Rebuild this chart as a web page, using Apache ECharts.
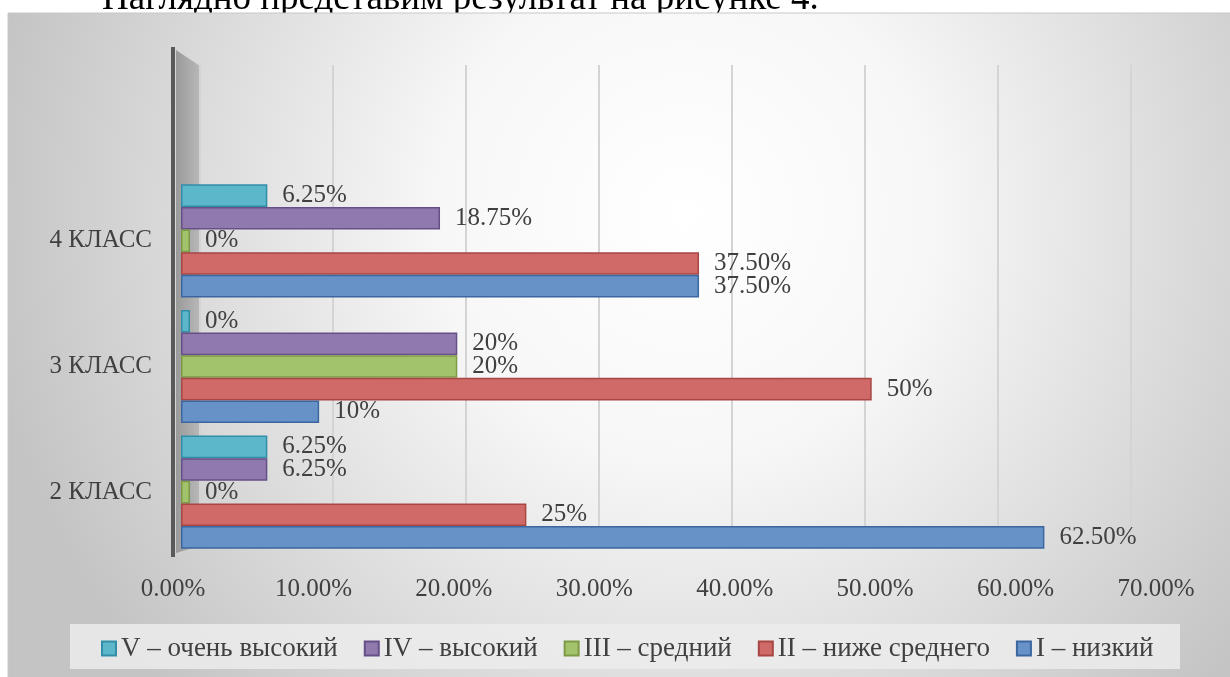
<!DOCTYPE html>
<html><head><meta charset="utf-8">
<script src="https://cdn.jsdelivr.net/npm/echarts@6/dist/echarts.min.js"></script>
<style>html,body{margin:0;padding:0;background:#fff;}#c{width:1230px;height:677px;}</style>
</head><body><div id="c"></div>
<script>
const categories = ['2 КЛАСС', '3 КЛАСС', '4 КЛАСС'];
const seriesNames = ['I – низкий', 'II – ниже среднего', 'III – средний', 'IV – высокий', 'V – очень высокий'];
const lowValues      = [62.5, 10, 37.5];
const belowAvgValues = [25, 50, 37.5];
const avgValues      = [0, 20, 0];
const highValues     = [6.25, 20, 18.75];
const veryHighValues = [6.25, 0, 6.25];
const lowLabels      = ['62.50%', '10%', '37.50%'];
const belowAvgLabels = ['25%', '50%', '37.50%'];
const avgLabels      = ['0%', '20%', '0%'];
const highLabels     = ['6.25%', '20%', '18.75%'];
const veryHighLabels = ['6.25%', '0%', '6.25%'];
const xTicks = [0, 10, 20, 30, 40, 50, 60, 70];

const FONT = '"Liberation Serif", "DejaVu Serif", serif';
const TXT = '#404040';
const fills   = ['#6792c7', '#d06a68', '#a3c26c', '#9079ad', '#5db7cb'];
const borders = ['#3c66a0', '#a84643', '#7d9a45', '#654f87', '#328ea6'];
const allValues = [lowValues, belowAvgValues, avgValues, highValues, veryHighValues];
const allLabels = [lowLabels, belowAvgLabels, avgLabels, highLabels, veryHighLabels];
const xMin = xTicks[0], xMax = xTicks[xTicks.length - 1];

const chart = echarts.init(document.getElementById('c'));
// ECharts places the first series of a horizontal bar group at the top, so add them from V down to I
const series = [4, 3, 2, 1, 0].map(i => ({
  name: seriesNames[i], type: 'bar', xAxisIndex: 0, yAxisIndex: 0,
  data: allValues[i], barGap: '0%', barCategoryGap: '10%', barMinHeight: 9,
  itemStyle: { color: fills[i], borderColor: borders[i], borderWidth: 1.5 },
  label: { show: true, position: 'right', distance: 15, color: TXT, fontFamily: FONT, fontSize: 25,
    formatter: p => allLabels[i][p.dataIndex] },
  z: 5
}));

chart.setOption({
  animation: false,
  graphic: [
    { type: 'text', left: 102, top: -19, z: -20,
      style: { text: 'Наглядно представим результат на рисунке 4.', font: '37px ' + FONT, fill: '#000' } },
    { type: 'rect', shape: { x: 8, y: 13, width: 1230, height: 670 }, z: -10,
      style: { fill: { type: 'radial', x: 0.55, y: 0.3, r: 1.05,
        colorStops: [{ offset: 0, color: '#ffffff' }, { offset: 0.35, color: '#f7f7f7' }, { offset: 1, color: '#c4c4c4' }] },
        stroke: '#c8c8c8', lineWidth: 1 } },
    { type: 'polygon', shape: { points: [[176, 50], [200, 66], [200, 546], [176, 553]] }, z: -5,
      style: { fill: { type: 'linear', x: 0, y: 0, x2: 1, y2: 0,
        colorStops: [{ offset: 0, color: '#9a9a9a' }, { offset: 1, color: '#b8b8b8' }] } } },
    { type: 'rect', shape: { x: 171, y: 47, width: 4, height: 510 }, z: 10, style: { fill: '#595959' } },
    { type: 'rect', shape: { x: 70, y: 624, width: 1110, height: 45 }, z: -4,
      style: { fill: 'rgba(236,236,236,0.85)' } }
  ],
  grid: [
    { left: 181, right: 82, top: 178, bottom: 122 },
    { left: 200, right: 99, top: 65, bottom: 129 },
    { left: 173, right: 74, top: 178, bottom: 122 }
  ],
  xAxis: [
    { type: 'value', gridIndex: 0, min: xMin, max: xMax, interval: 10,
      axisLine: { show: false }, axisTick: { show: false }, splitLine: { show: false }, axisLabel: { show: false } },
    { type: 'value', gridIndex: 1, min: xMin, max: xMax, interval: 10,
      axisLine: { show: false }, axisTick: { show: false }, axisLabel: { show: false },
      splitLine: { show: true, lineStyle: { color: '#d4d4d4', width: 2 } } },
    { type: 'value', gridIndex: 2, min: xMin, max: xMax, interval: 10,
      axisLine: { show: false }, axisTick: { show: false }, splitLine: { show: false },
      axisLabel: { color: TXT, fontFamily: FONT, fontSize: 25, margin: 22,
        formatter: v => v.toFixed(2) + '%' } }
  ],
  yAxis: [
    { type: 'category', gridIndex: 0, data: categories,
      axisLine: { show: false }, axisTick: { show: false },
      axisLabel: { color: TXT, fontFamily: FONT, fontSize: 25, margin: 29 } },
    { type: 'category', gridIndex: 1, data: categories, show: false },
    { type: 'category', gridIndex: 2, data: categories, show: false }
  ],
  legend: {
    left: 101, top: 635, padding: 0, icon: 'rect', itemWidth: 14, itemHeight: 14, itemGap: 26,
    data: seriesNames.slice().reverse(),
    textStyle: { color: TXT, fontFamily: FONT, fontSize: 27 }
  },
  series: series
});
</script></body></html>
